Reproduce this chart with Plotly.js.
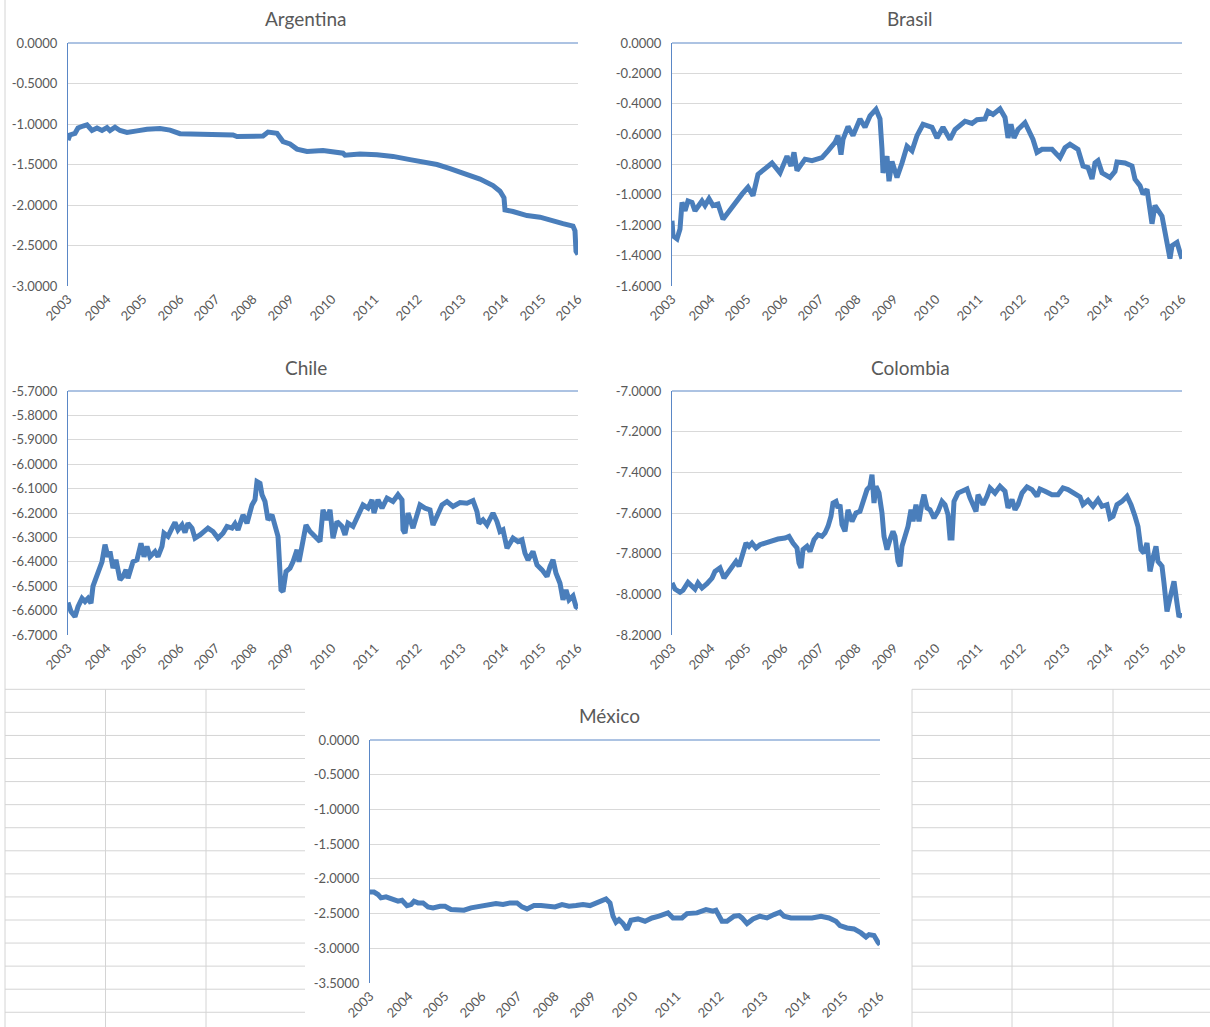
<!DOCTYPE html>
<html>
<head>
<meta charset="utf-8">
<script src="https://cdn.plot.ly/plotly-3.0.1.min.js"></script>
<style>
html,body{margin:0;padding:0;background:#ffffff;}
#chart{width:1210px;height:1027px;}
</style>
</head>
<body>
<div id="chart"></div>
<script>
// ---------- DATA (observation index 0..510, year labels at observation positions) ----------
const yearLabels = ["2003","2004","2005","2006","2007","2008","2009","2010","2011","2012","2013","2014","2015","2016"];
const yearObs = [0,39,75,112,148,185,222,264,307,350,394,437,474,510];

const argT = [0,2,7,10,15,19,24,29,34,39,42,47,52,59,69,79,92,102,112,125,145,165,169,192,195,200,209,215,222,229,239,255,275,277,292,309,325,342,359,369,382,399,412,425,432,436,437,445,459,472,485,495,505,507,508,510];
const argV = [-1.20,-1.135,-1.115,-1.05,-1.025,-1.01,-1.08,-1.05,-1.08,-1.045,-1.08,-1.04,-1.08,-1.105,-1.085,-1.065,-1.057,-1.075,-1.12,-1.12,-1.12,-1.135,-1.155,-1.155,-1.148,-1.10,-1.115,-1.217,-1.246,-1.31,-1.34,-1.328,-1.36,-1.385,-1.37,-1.38,-1.40,-1.44,-1.475,-1.50,-1.55,-1.63,-1.68,-1.76,-1.83,-1.91,-2.06,-2.08,-2.13,-2.15,-2.20,-2.23,-2.26,-2.32,-2.57,-2.61];

const braT = [0,1,5,8,10,13,16,20,23,30,33,37,41,46,51,56,63,70,76,81,86,93,100,108,115,119,122,125,133,140,150,156,163,166,169,171,176,181,188,193,198,204,208,210,211,215,217,220,225,230,235,240,245,251,256,260,265,271,278,283,293,300,305,313,316,321,328,333,336,339,342,346,353,358,361,365,370,380,388,393,398,406,411,416,420,423,426,430,438,443,445,453,460,463,468,471,475,480,483,490,493,498,500,505,508,510];
const braV = [-1.17,-1.27,-1.29,-1.225,-1.05,-1.105,-1.04,-1.05,-1.105,-1.04,-1.07,-1.025,-1.07,-1.06,-1.16,-1.115,-1.05,-0.995,-0.95,-1.005,-0.865,-0.83,-0.79,-0.855,-0.745,-0.81,-0.72,-0.84,-0.765,-0.775,-0.755,-0.71,-0.655,-0.61,-0.735,-0.635,-0.55,-0.61,-0.50,-0.555,-0.48,-0.437,-0.50,-0.70,-0.855,-0.745,-0.91,-0.78,-0.885,-0.79,-0.68,-0.71,-0.61,-0.535,-0.545,-0.555,-0.625,-0.555,-0.635,-0.57,-0.515,-0.53,-0.505,-0.50,-0.45,-0.47,-0.433,-0.49,-0.625,-0.535,-0.625,-0.57,-0.525,-0.60,-0.635,-0.72,-0.70,-0.70,-0.755,-0.69,-0.667,-0.70,-0.81,-0.82,-0.895,-0.79,-0.775,-0.855,-0.885,-0.845,-0.783,-0.79,-0.81,-0.897,-0.94,-0.995,-0.963,-1.19,-1.07,-1.14,-1.25,-1.42,-1.335,-1.313,-1.38,-1.42];

const chiT = [0,3,7,10,14,17,20,23,25,30,34,37,40,42,45,48,52,55,58,60,65,69,73,76,79,82,87,90,94,96,100,104,107,110,114,117,120,124,127,132,137,140,145,150,155,159,164,167,170,175,179,184,187,189,192,194,197,200,204,207,210,213,215,218,222,225,229,231,235,238,242,247,252,255,259,262,265,269,274,277,280,285,290,295,300,304,306,310,314,319,325,330,334,335,337,340,345,349,352,357,362,365,369,374,379,385,392,399,405,409,411,415,419,425,429,432,435,439,442,445,450,454,457,460,465,469,474,479,482,485,488,492,495,498,501,505,508,510];
const chiV = [-6.567,-6.604,-6.625,-6.584,-6.55,-6.563,-6.55,-6.57,-6.50,-6.447,-6.40,-6.33,-6.38,-6.358,-6.426,-6.392,-6.474,-6.46,-6.433,-6.467,-6.40,-6.392,-6.324,-6.379,-6.337,-6.379,-6.358,-6.379,-6.337,-6.283,-6.296,-6.262,-6.239,-6.269,-6.249,-6.28,-6.242,-6.262,-6.303,-6.29,-6.276,-6.262,-6.276,-6.303,-6.283,-6.255,-6.262,-6.244,-6.269,-6.208,-6.242,-6.167,-6.146,-6.071,-6.078,-6.125,-6.153,-6.228,-6.208,-6.255,-6.296,-6.515,-6.522,-6.44,-6.426,-6.40,-6.351,-6.40,-6.317,-6.249,-6.276,-6.296,-6.317,-6.187,-6.228,-6.187,-6.303,-6.235,-6.255,-6.29,-6.242,-6.255,-6.208,-6.167,-6.18,-6.146,-6.20,-6.146,-6.18,-6.139,-6.153,-6.125,-6.146,-6.269,-6.283,-6.20,-6.262,-6.214,-6.167,-6.18,-6.187,-6.249,-6.214,-6.167,-6.153,-6.173,-6.157,-6.16,-6.149,-6.194,-6.242,-6.228,-6.249,-6.20,-6.235,-6.276,-6.269,-6.344,-6.324,-6.303,-6.317,-6.31,-6.365,-6.392,-6.358,-6.413,-6.433,-6.46,-6.42,-6.392,-6.447,-6.488,-6.556,-6.515,-6.556,-6.54,-6.584,-6.59];

const colT = [0,3,8,11,16,20,23,26,30,35,40,43,48,52,56,60,64,67,71,74,77,80,84,88,93,100,106,113,117,121,125,127,129,131,135,138,142,146,150,153,156,159,161,164,166,168,170,173,176,180,184,188,191,195,198,200,202,204,207,210,212,215,218,221,223,226,228,230,233,236,239,241,244,247,250,252,255,258,262,266,270,273,276,278,280,282,286,291,295,298,301,304,306,308,311,315,318,323,328,333,336,340,343,346,350,355,360,365,368,373,380,386,391,396,403,408,411,416,421,426,430,435,438,441,445,450,455,459,463,466,469,472,475,478,481,484,486,490,492,495,498,502,505,507,510];
const colV = [-7.944,-7.974,-7.99,-7.98,-7.941,-7.957,-7.974,-7.944,-7.969,-7.948,-7.92,-7.887,-7.87,-7.92,-7.892,-7.862,-7.838,-7.862,-7.797,-7.748,-7.764,-7.748,-7.772,-7.756,-7.748,-7.734,-7.728,-7.723,-7.715,-7.748,-7.772,-7.846,-7.87,-7.78,-7.764,-7.789,-7.731,-7.707,-7.715,-7.698,-7.666,-7.616,-7.551,-7.543,-7.575,-7.559,-7.657,-7.69,-7.584,-7.641,-7.60,-7.592,-7.543,-7.485,-7.469,-7.411,-7.551,-7.469,-7.502,-7.60,-7.715,-7.78,-7.731,-7.69,-7.715,-7.838,-7.862,-7.764,-7.715,-7.666,-7.584,-7.641,-7.559,-7.641,-7.551,-7.51,-7.575,-7.584,-7.625,-7.592,-7.543,-7.559,-7.608,-7.723,-7.723,-7.543,-7.502,-7.493,-7.482,-7.526,-7.559,-7.592,-7.51,-7.534,-7.559,-7.518,-7.477,-7.502,-7.469,-7.493,-7.575,-7.534,-7.584,-7.559,-7.502,-7.472,-7.485,-7.518,-7.482,-7.493,-7.51,-7.51,-7.477,-7.485,-7.51,-7.521,-7.559,-7.538,-7.567,-7.534,-7.567,-7.559,-7.625,-7.616,-7.559,-7.543,-7.518,-7.559,-7.616,-7.666,-7.78,-7.797,-7.748,-7.887,-7.821,-7.764,-7.838,-7.862,-7.944,-8.084,-8.018,-7.936,-8.043,-8.111,-8.092];

const mexT = [0,4,8,11,16,22,28,32,37,41,44,48,53,58,63,70,75,81,88,94,101,108,115,126,133,140,147,152,157,164,171,178,185,192,199,206,213,220,227,233,236,240,243,246,249,253,257,261,268,275,282,289,298,303,312,317,327,336,343,346,352,357,364,369,372,377,383,390,397,404,410,414,421,431,442,451,459,466,470,477,484,491,496,499,504,508,510];
const mexV = [-2.19,-2.19,-2.226,-2.274,-2.26,-2.298,-2.322,-2.308,-2.385,-2.37,-2.322,-2.346,-2.346,-2.404,-2.418,-2.394,-2.394,-2.442,-2.442,-2.452,-2.418,-2.404,-2.385,-2.356,-2.37,-2.346,-2.346,-2.404,-2.433,-2.385,-2.385,-2.394,-2.404,-2.37,-2.394,-2.385,-2.37,-2.385,-2.337,-2.298,-2.288,-2.346,-2.538,-2.625,-2.587,-2.644,-2.73,-2.596,-2.577,-2.61,-2.563,-2.538,-2.49,-2.563,-2.563,-2.50,-2.49,-2.442,-2.466,-2.452,-2.61,-2.61,-2.538,-2.529,-2.563,-2.644,-2.577,-2.538,-2.563,-2.514,-2.481,-2.538,-2.563,-2.563,-2.563,-2.538,-2.563,-2.61,-2.673,-2.707,-2.721,-2.779,-2.837,-2.803,-2.817,-2.913,-2.947];

const countries = ["Argentina","Brasil","Chile","Colombia","México"];
const yMin = [-3.0,-1.6,-6.7,-8.2,-3.5];
const yMax = [0.0,0.0,-5.7,-7.0,0.0];
const yStep = [0.5,0.2,0.1,0.2,0.5];

// ---------- LAYOUT (pixel boxes of plot areas) ----------
const W = 1210, H = 1027;
const boxes = [
  {x0:68,  x1:578,  y0:43,  y1:286, tx:306, ty:18},
  {x0:672, x1:1182, y0:43,  y1:286, tx:910, ty:18},
  {x0:68,  x1:578,  y0:391, y1:635, tx:306, ty:367},
  {x0:672, x1:1182, y0:391, y1:635, tx:910, ty:367},
  {x0:370, x1:880,  y0:740, y1:983, tx:609, ty:715}
];
const seriesT = [argT, braT, chiT, colT, mexT];
const seriesV = [argV, braV, chiV, colV, mexV];

const FONT = "Lato, 'Open Sans', sans-serif";
const lineColor = "#4a7ebb";
const axisBlue = "#5a87c6";
const gridGray = "#d9d9d9";
const textGray = "#595959";

const traces = [];
const layout = {
  width: W, height: H,
  margin: {l:0, r:0, t:0, b:0},
  paper_bgcolor: "#ffffff",
  plot_bgcolor: "#ffffff",
  showlegend: false,
  font: {family: FONT, color: textGray, size: 13},
  annotations: [],
  shapes: []
};

function ticksFor(i){
  const vals = [], txt = [];
  const n = Math.round((yMax[i]-yMin[i])/yStep[i]);
  for(let k=0;k<=n;k++){
    const v = yMax[i] - k*yStep[i];
    vals.push(v);
    txt.push(v.toFixed(4).replace("-0.0000","0.0000"));
  }
  return {vals, txt};
}

boxes.forEach((b, i) => {
  const n = i === 0 ? "" : String(i+1);
  const xa = "xaxis" + n, ya = "yaxis" + n;
  const tk = ticksFor(i);
  traces.push({
    type: "scatter", mode: "lines",
    x: seriesT[i], y: seriesV[i],
    xaxis: "x" + n, yaxis: "y" + n,
    line: {color: lineColor, width: 5},
    hoverinfo: "skip"
  });
  layout[xa] = {
    domain: [b.x0/W, b.x1/W],
    anchor: "y" + n,
    range: [0, 510],
    tickmode: "array",
    tickvals: yearObs,
    ticktext: yearLabels,
    tickangle: -45,
    showgrid: false, zeroline: false, showline: false,
    ticks: "",
    ticklabelstandoff: 2,
    tickfont: {family: FONT, size: 13, color: textGray},
    fixedrange: true
  };
  layout[ya] = {
    domain: [1 - b.y1/H, 1 - b.y0/H],
    anchor: "x" + n,
    range: [yMin[i], yMax[i]],
    tickmode: "array",
    tickvals: tk.vals,
    ticktext: tk.txt,
    showgrid: true, gridcolor: gridGray, gridwidth: 1,
    zeroline: false,
    showline: true, linecolor: axisBlue, linewidth: 1,
    ticks: "",
    ticklabelstandoff: 7,
    tickfont: {family: FONT, size: 13, color: textGray},
    fixedrange: true
  };
  // horizontal axis line drawn at the top (Excel crosses at maximum)
  layout.shapes.push({
    type: "line", xref: "x" + n + " domain", yref: "y" + n + " domain",
    x0: 0, x1: 1, y0: 1, y1: 1,
    line: {color: axisBlue, width: 1}, layer: "above"
  });
  layout.annotations.push({
    text: countries[i], xref: "paper", yref: "paper",
    x: b.tx/W, y: 1 - b.ty/H, xanchor: "center", yanchor: "middle",
    showarrow: false,
    font: {family: FONT, size: 19, color: textGray}
  });
});

// Excel worksheet cell grid visible around the bottom chart
const cellGray = "#d4d4d4";
const rowTop = 689.3, rowH = 23.07, nRows = 15;
function hline(xp0, xp1, yp){
  layout.shapes.push({type:"line", xref:"paper", yref:"paper",
    x0:xp0/W, x1:xp1/W, y0:1-yp/H, y1:1-yp/H, line:{color:cellGray, width:1}, layer:"below"});
}
function vline(xp, yp0, yp1){
  layout.shapes.push({type:"line", xref:"paper", yref:"paper",
    x0:xp/W, x1:xp/W, y0:1-yp0/H, y1:1-yp1/H, line:{color:cellGray, width:1}, layer:"below"});
}
for(let r=0;r<nRows;r++){
  const yp = rowTop + r*rowH;
  hline(5, 305, yp);
  hline(912, 1210, yp);
}
vline(5, 0, H);
[105.5, 206].forEach(xp => vline(xp, rowTop, H));
[912, 1012, 1113].forEach(xp => vline(xp, rowTop, H));

Plotly.newPlot("chart", traces, layout, {staticPlot: true, displayModeBar: false});
</script>
</body>
</html>
